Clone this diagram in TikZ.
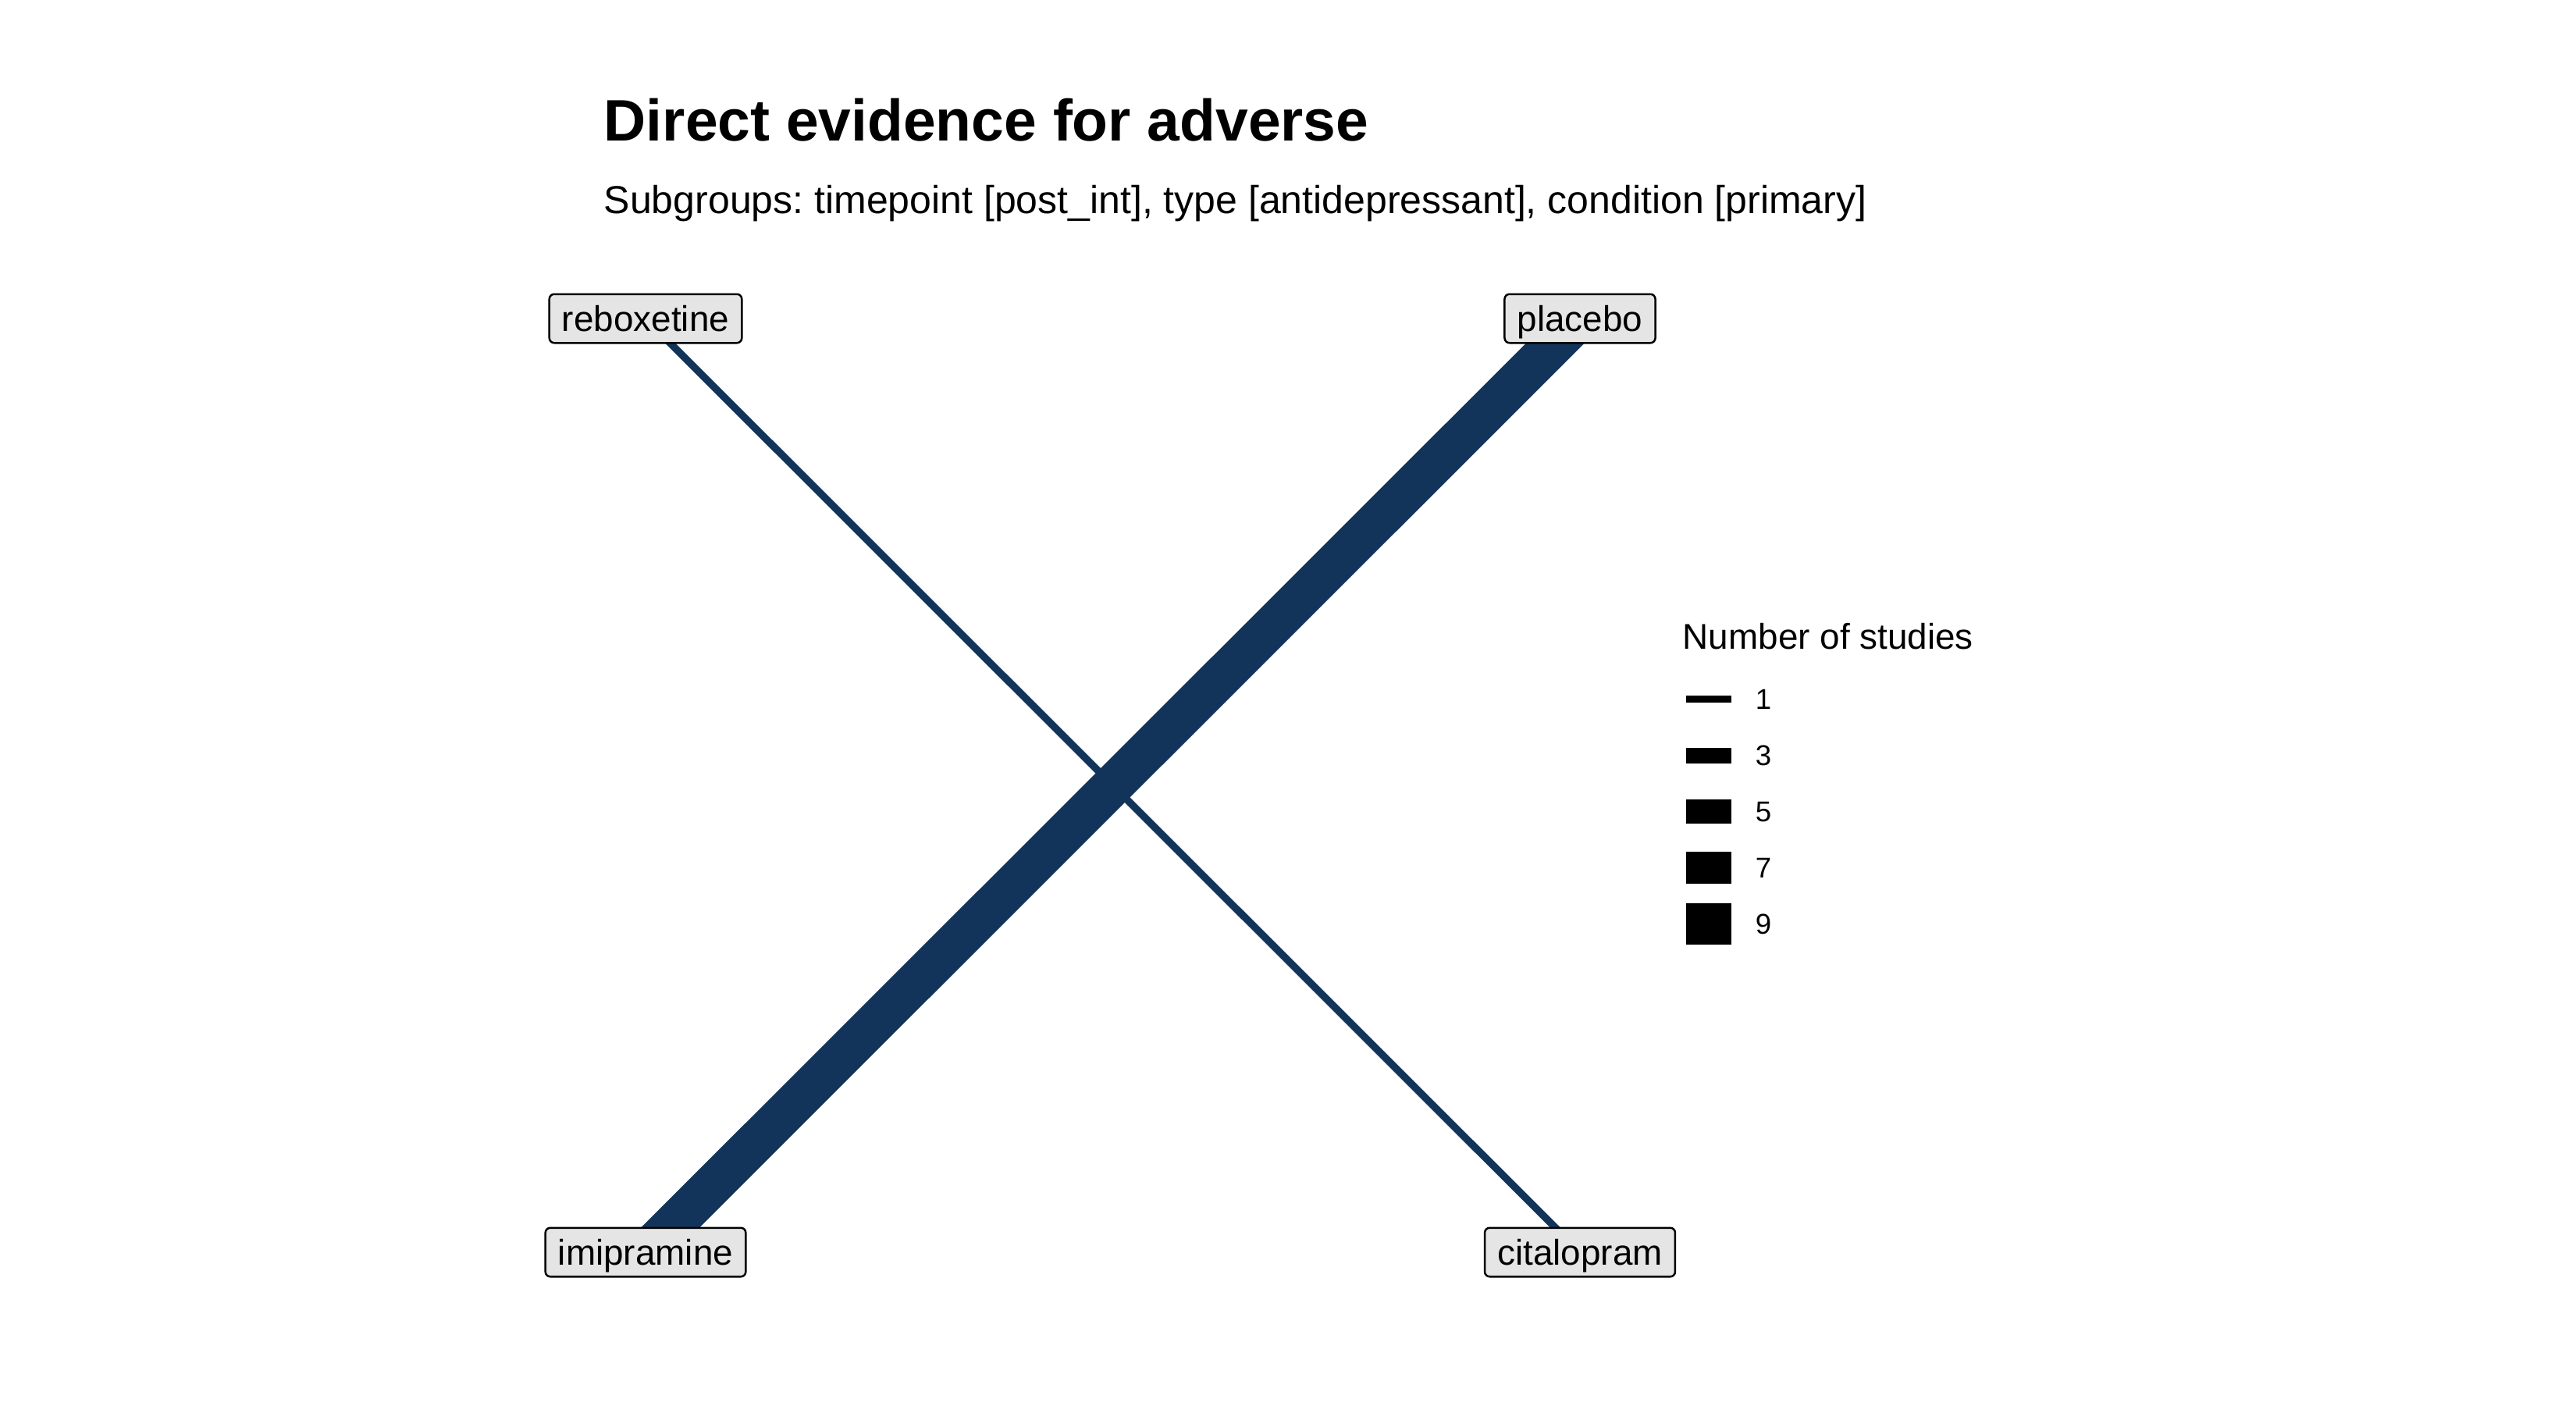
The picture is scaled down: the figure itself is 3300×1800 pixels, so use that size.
\documentclass[tikz,border=0pt]{standalone}
\usepackage{fontspec}
\setmainfont{Liberation Sans}
\frenchspacing
\definecolor{edgeblue}{RGB}{19,52,90}
\definecolor{labelfill}{HTML}{E5E5E5}
\pgfdeclarelayer{bg}
\pgfsetlayers{bg,main}
\begin{document}
\begin{tikzpicture}[x=0.24pt,y=-0.24pt,
  drug/.style={draw=black, line width=0.6pt, fill=labelfill, rounded corners=1.5pt,
    font=\fontsize{11}{13}\selectfont, text height=7.9pt, text depth=0pt,
    inner xsep=3.9pt, inner ysep=3.55pt},
  edgeline/.style={draw=edgeblue, line cap=butt},
  keyline/.style={draw=black, line cap=butt},
  keylabel/.style={anchor=base west, inner sep=0pt, font=\fontsize{8.8}{10}\selectfont},
  ttl/.style={anchor=base west, inner sep=0pt}]
\useasboundingbox (0,0) rectangle (3300,1800);
% title
\node[ttl, font=\bfseries\fontsize{18}{21}\selectfont] (title) at (773,180) {Direct evidence for adverse};
\node[ttl, font=\fontsize{12}{14}\selectfont] (subtitle) at (773,273) {Subgroups: timepoint [post\_int], type [antidepressant], condition [primary]};
% nodes
\node[drug] (reb) at (827,408) {reboxetine};
\node[drug] (pla) at (2024,408) {placebo};
\node[drug] (imi) at (827,1604) {imipramine};
\node[drug] (cit) at (2024,1604) {citalopram};
% edges
\begin{pgfonlayer}{bg}
\fill[white] (0,0) rectangle (3300,1800);
\draw[edgeline, line width=2.25pt] (reb.center) -- (cit.center);
\draw[edgeline, line width=12.7pt] (imi.center) -- (pla.center);
\end{pgfonlayer}
% legend
\node[ttl, font=\fontsize{11}{13}\selectfont] (legtitle) at (2155,831) {Number of studies};
\draw[keyline, line width=2.16pt] (2160,895.5) -- (2218,895.5);
\draw[keyline, line width=4.8pt] (2160,967.5) -- (2218,967.5);
\draw[keyline, line width=7.44pt] (2160,1039.5) -- (2218,1039.5);
\draw[keyline, line width=9.84pt] (2160,1111.5) -- (2218,1111.5);
\draw[keyline, line width=12.72pt] (2160,1183.3) -- (2218,1183.3);
\node[keylabel] (k1) at (2248,908.5) {1};
\node[keylabel] (k3) at (2248,980.5) {3};
\node[keylabel] (k5) at (2248,1052.5) {5};
\node[keylabel] (k7) at (2248,1124.5) {7};
\node[keylabel] (k9) at (2248,1196.3) {9};
\end{tikzpicture}
\end{document}
